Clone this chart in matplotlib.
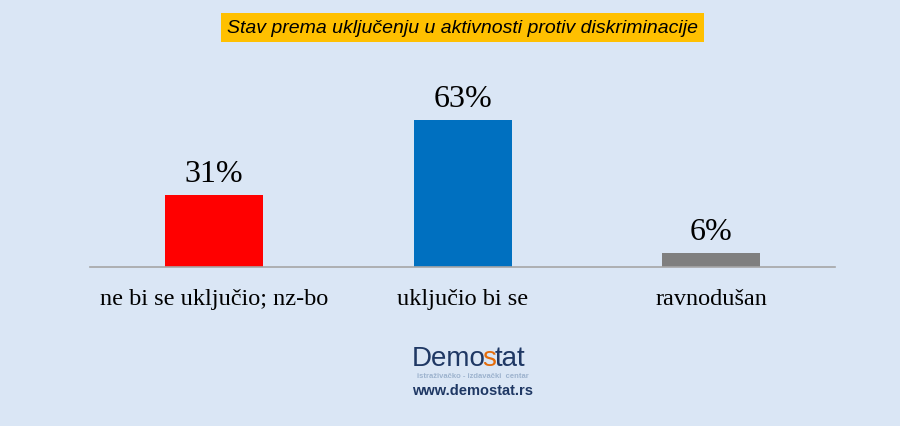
import matplotlib.pyplot as plt

# Data
categories = ['ne bi se uključio; nz-bo', 'uključio bi se', 'ravnodušan']
values = [31, 63, 6]
colors = ['#FF0000', '#0070C0', '#7F7F7F']
title = 'Stav prema uključenju u aktivnosti protiv diskriminacije'

bg = '#DAE6F5'
navy = '#1F3864'

fig = plt.figure(figsize=(9, 4.27), dpi=100, facecolor=bg)
ax = fig.add_axes([0.1, 0.3724, 0.828, 0.437])
ax.set_facecolor(bg)

x = range(len(categories))
bars = ax.bar(x, values, width=0.395, color=colors)
ax.set_xlim(-0.5, 2.5)
ax.set_ylim(0, 80)

for b, v in zip(bars, values):
    ax.annotate(f'{v}%', (b.get_x() + b.get_width() / 2, v),
                xytext=(0, 5), textcoords='offset points',
                ha='center', va='bottom', fontsize=23, family='Liberation Serif')

for s in ['top', 'right', 'left']:
    ax.spines[s].set_visible(False)
ax.spines['bottom'].set_color('#A6A6A6')
ax.spines['bottom'].set_linewidth(1.2)
ax.set_yticks([])
ax.set_xticks(list(x))
ax.set_xticklabels(categories, fontsize=17.5, family='Liberation Serif')
ax.tick_params(axis='x', length=0, pad=15)

# title in a yellow box
fig.text(0.514, 0.934, title, ha='center', va='center', fontsize=14,
         style='italic', family='Liberation Sans',
         bbox=dict(boxstyle='square,pad=0.3', fc='#FFC000', ec='none'))

# Demostat logo: "Demo" + orange "s" + "tat"
logo_kw = dict(va='bottom', ha='left', fontsize=20, family='Liberation Sans')
x0, y0 = 0.458, 0.128
r = fig.canvas.get_renderer()


def width(txt):
    t = fig.text(0, 0, txt, alpha=0, **logo_kw)
    w = t.get_window_extent(r).width / fig.bbox.width
    t.remove()
    return w


fig.text(x0, y0, 'Demo', color=navy, **logo_kw)
fig.text(x0 + width('Demos') - width('s') - 4 / 900, y0, 's', color='#E46C0A', **logo_kw)
fig.text(x0 + width('Demostat') - width('tat') - 5 / 900, y0, 'tat', color=navy, **logo_kw)
fig.text(0.525, 0.118, 'istraživačko - izdavački  centar', ha='center', va='center',
         fontsize=5.5, weight='bold', color='#9DB3CE', family='Liberation Sans')
fig.text(0.525, 0.085, 'www.demostat.rs', ha='center', va='center',
         fontsize=10.5, weight='bold', color=navy, family='Liberation Sans')

fig.savefig('out.png', dpi=100, facecolor=bg)
